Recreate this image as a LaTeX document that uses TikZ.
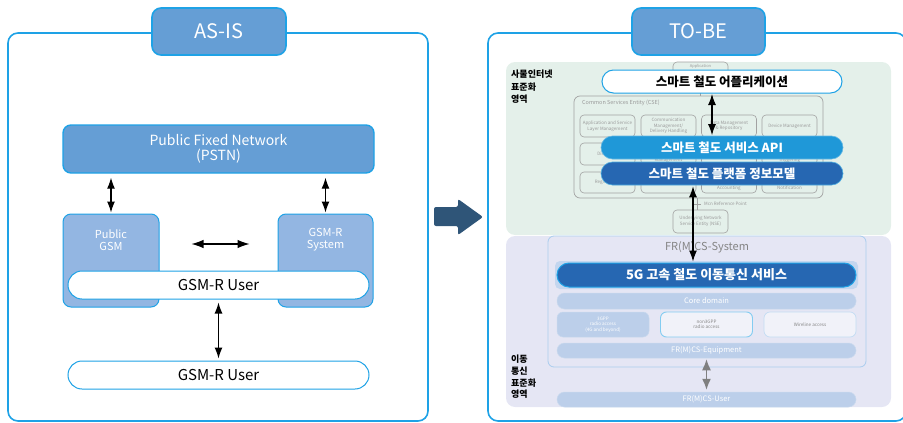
\documentclass[tikz,border=0pt]{standalone}
\usepackage{fontspec}
\setmainfont{Noto Sans CJK KR}
\usetikzlibrary{arrows.meta}

\definecolor{framecyan}{HTML}{1EA2E6}
\definecolor{tabblue}{HTML}{659ED5}
\definecolor{midblue}{HTML}{93B6E2}
\definecolor{bigarrow}{HTML}{2F5578}
\definecolor{greenbg}{HTML}{E4F0EA}
\definecolor{purplebg}{HTML}{E5E6F4}
\definecolor{apiblue}{HTML}{1F98D8}
\definecolor{deepblue}{HTML}{2667B2}
\definecolor{softblue}{HTML}{BCCFEA}
\definecolor{halo}{HTML}{C3D6EF}
\definecolor{paleface}{HTML}{F1F2F9}
\definecolor{sysline}{HTML}{AACDEE}
\definecolor{cseline}{HTML}{A2A2A2}
\definecolor{csetext}{HTML}{9A9A9A}
\definecolor{systext}{HTML}{858585}
\definecolor{linkgray}{HTML}{7F7F7F}

\newcommand\fsz[2]{\fontsize{#1}{#2}\selectfont}

\begin{document}
\begin{tikzpicture}[x=1pt,y=-1pt,
  box/.style={rectangle, inner sep=0pt, align=center},
  frame/.style={box, draw=framecyan, line width=1.6pt, rounded corners=10pt},
  tabbox/.style={box, fill=tabblue, draw=framecyan, line width=1.6pt, rounded corners=9pt,
    text=white, font=\fsz{20}{24}},
  bluebox/.style={box, fill=tabblue, draw=framecyan, line width=1.4pt, rounded corners=8pt,
    text=white, font=\fsz{14}{15}},
  lightbox/.style={box, fill=midblue, draw=framecyan, line width=1pt, rounded corners=8pt},
  lighttext/.style={box, text=white, font=\fsz{11}{12}},
  userpill/.style={box, fill=white, draw=framecyan, line width=1pt, rounded corners=14pt,
    minimum width=301pt, minimum height=28pt, font=\fsz{15}{16}},
  link/.style={{Latex[length=11pt,width=8pt]}-{Latex[length=11pt,width=8pt]}, line width=1.1pt},
  region/.style={box, rounded corners=9pt},
  areatext/.style={box, anchor=north west, align=left, font=\bfseries\fsz{9}{12.5}},
  csebox/.style={box, draw=cseline, line width=0.6pt, rounded corners=4pt,
    minimum width=55pt, minimum height=22pt, text=csetext, font=\fsz{4.5}{5.6}},
  csetxt/.style={box, text=csetext, font=\fsz{4.5}{5.6}},
  bar/.style={box, minimum width=242pt, minimum height=23pt, rounded corners=11.5pt,
    text=white, font=\bfseries\fsz{12.5}{14}},
  softbar/.style={box, fill=softblue, draw=softblue!80!white, line width=0.5pt,
    minimum width=299pt, rounded corners=7.5pt, text=white, font=\fsz{7.5}{8}},
  accessbox/.style={box, minimum width=92pt, minimum height=25pt, rounded corners=6pt,
    font=\fsz{4.6}{5.6}},
  grayarrow/.style={{Latex[length=11pt,width=9pt]}-{Latex[length=11pt,width=9pt]},
    line width=1.3pt, draw=linkgray, color=linkgray}
]
\useasboundingbox (0,0) rectangle (903,423);
\clip (0,0) rectangle (903,423);

% ---------------- AS-IS ----------------
\node[frame, minimum width=420pt, minimum height=388pt] (asframe) at (218,227) {};
\node[tabbox, minimum width=134pt, minimum height=47pt] (astab) at (219,31.5) {AS-IS};

\node[bluebox, minimum width=311pt, minimum height=48pt] (pstn) at (218.5,149)
  {Public Fixed Network\\(PSTN)};

\node[lightbox, minimum width=96pt, minimum height=93pt] (pgsm) at (111,260.5) {};
\node[lightbox, minimum width=95pt, minimum height=93pt] (gsys) at (325.5,260.5) {};
\node[lighttext] (pgsmtext) at (111,240) {Public\\GSM};
\node[lighttext] (gsystext) at (325.5,240) {GSM-R\\System};

\node[userpill] (user1) at (218.5,285) {GSM-R User};
\node[userpill] (user2) at (218.5,375) {GSM-R User};

\draw[link] ([yshift=-4pt]pstn.south -| pgsm.north) -- ([yshift=1pt]pgsm.north);
\draw[link] ([yshift=-4pt]pstn.south -| gsys.north) -- ([yshift=1pt]gsys.north);
\draw[link, {Latex[length=12pt,width=8.5pt]}-{Latex[length=12pt,width=8.5pt]},
  shorten <=32pt, shorten >=28pt]
  ([yshift=16.5pt]pgsm.east) -- ([yshift=16.5pt]gsys.west);
\draw[link] ([yshift=-3pt]user1.south) -- ([yshift=2pt]user2.north);

% ---------------- transition arrow ----------------
\fill[bigarrow, rounded corners=2pt]
  (434,207) -- (458,207) -- (458,199) -- (483,217) -- (458,235) -- (458,226) -- (434,226) -- cycle;

% ---------------- TO-BE ----------------
\node[frame, minimum width=418pt, minimum height=388pt] (tbframe) at (697,227) {};
\node[tabbox, minimum width=133pt, minimum height=47pt] (tbtab) at (698.5,31.5) {TO-BE};

% standardisation areas
\node[region, fill=greenbg, minimum width=385pt, minimum height=173pt] (iotarea) at (698.5,148.5) {};
\node[region, fill=purplebg, minimum width=385pt, minimum height=171pt] (mobarea) at (698.5,321.5) {};
\node[areatext] (iotlabel) at (511,70) {사물인터넷\\표준화\\영역};
\node[areatext, font=\bfseries\fsz{9}{11.7}] (moblabel) at (511,355) {이동\\통신\\표준화\\영역};

% oneM2M common services entity
\node[csebox, minimum height=26pt] (appl) at (700.5,75) {};
\node[box, text=csetext, font=\fsz{4}{5}] (appltext) at (700.5,66) {Application};
\node[box, draw=cseline, line width=0.7pt, rounded corners=6pt,
  minimum width=249pt, minimum height=102pt] (cse) at (698.5,147) {};
\draw[cseline, line width=0.6pt] (appl.south) -- (appl.south |- cse.north);
\node[box, anchor=west, text=csetext, font=\fsz{5.5}{6}] (csetitle) at (582,103)
  {Common Services Entity (CSE)};

\node[csebox] (c11) at (607.5,126) {Application and Service\\Layer Management};
\node[csebox] (c12) at (668.5,126) {Communication\\Management/\\Delivery Handling};
\node[csebox] (c13) at (729,126) {Data Management\\\& Repository};
\node[csebox] (c14) at (789.5,126) {Device Management};
\node[csebox] (c21) at (607.5,154) {Discovery};
\node[csebox] (c22) at (668.5,154) {};
\node[csebox] (c23) at (729,154) {};
\node[csebox] (c24) at (789.5,154) {};
\node[csebox, minimum height=21pt] (c31) at (607.5,182.5) {Registration};
\node[csebox, minimum height=21pt] (c32) at (668.5,182.5) {};
\node[csebox, minimum height=21pt] (c33) at (729,182.5) {};
\node[csebox, minimum height=21pt] (c34) at (789.5,182.5) {};
% lines of the box captions that show between and below the bars
\node[csetxt] (c22tail) at (668.5,160.3) {Management};
\node[csetxt] (c24tail) at (789.5,160.3) {Triggering};
\node[csetxt] (c33tail) at (729,188) {Accounting};
\node[csetxt] (c34tail) at (789.5,188) {Notification};

\node[csebox, minimum height=23pt] (nse) at (700.5,221.5) {Underlying Network\\Service Entity (NSE)};
\draw[cseline, line width=0.6pt] (cse.south -| 697,0) -- (nse.north -| 697,0);
\draw[cseline, line width=0.6pt] (694,204) -- (701,204);
\node[box, anchor=west, text=csetext, font=\fsz{4.5}{5}] (mcn) at (704,204) {Mcn Reference Point};

% smart railway service layers
\node[bar, fill=white, draw=framecyan, line width=1pt, minimum width=240pt, text=black]
  (app) at (722,81.5) {스마트 철도 어플리케이션};
\node[bar, fill=apiblue, draw=apiblue!70!white, line width=0.6pt] (api) at (722,147.5)
  {스마트 철도 서비스 API};
\node[bar, fill=deepblue, draw=apiblue!80!white, line width=0.6pt] (model) at (722,173.5)
  {스마트 철도 플랫폼 정보모델};

% FR(M)CS system
\node[box, draw=sysline, line width=0.8pt, rounded corners=6pt,
  minimum width=318pt, minimum height=131pt] (frmcs) at (707,301.5) {};
\node[box, text=systext, font=\fsz{11}{12}] (frmcstitle) at (707,247) {FR(M)CS-System};

\node[box, fill=halo, rounded corners=5pt, minimum width=303pt, minimum height=28pt] (fivegbg)
  at (706.5,275) {};
\node[box, fill=deepblue, draw=framecyan, line width=1pt, rounded corners=12pt,
  minimum width=299pt, minimum height=24pt, text=white, font=\bfseries\fsz{13}{14}]
  (fiveg) at (706.5,275) {5G 고속 철도 이동통신 서비스};

\node[softbar, minimum height=16pt] (core) at (706.5,301) {Core domain};
\node[accessbox, fill=softblue, draw=softblue!80!white, line width=0.5pt, text=white]
  (acc1) at (603,324.5) {3GPP\\radio access\\(4G and beyond)};
\node[accessbox, fill=paleface, draw=framecyan!55!white, line width=0.9pt, text=systext]
  (acc2) at (706.5,324.5) {non3GPP\\radio access};
\node[accessbox, fill=paleface, draw=sysline!70!white, line width=0.7pt, text=systext]
  (acc3) at (810,324.5) {Wireline access};
\node[softbar, minimum height=15pt] (equip) at (706.5,350.5) {FR(M)CS-Equipment};
\node[softbar, minimum height=15pt] (fruser) at (706.5,399.5) {FR(M)CS-User};

% connectors
\draw[link] ([yshift=-0.5pt]app.south -| 712,0) -- ([yshift=0.5pt]api.north -| 712,0);
\draw[link] ([yshift=-1pt]model.south -| 693,0) -- ([yshift=1pt]fiveg.north -| 693,0);
\draw[grayarrow] ([yshift=-1pt]equip.south) -- ([yshift=2pt]fruser.north);
\end{tikzpicture}
\end{document}
